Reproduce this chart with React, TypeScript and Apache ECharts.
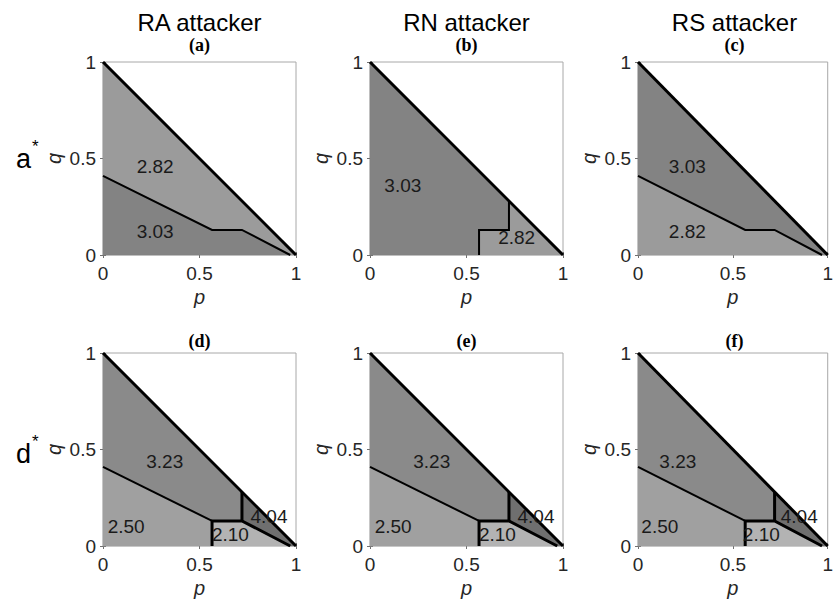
import React, { useEffect, useRef } from "react";
import * as echarts from "echarts";

// ---- data ----
const columnTitles = ["RA attacker", "RN attacker", "RS attacker"];
const panelLetters = ["(a)", "(b)", "(c)", "(d)", "(e)", "(f)"];
const rowLetters = ["a", "d"];
const tickValues = [0, 0.5, 1];

// boundaries in (p, q)
const diagonal = [[0, 1], [1, 0]];
const lowerBoundary = [[0, 0.41], [0.565, 0.13], [0.72, 0.13], [0.97, 0]];
const lowerLeftPart = [[0, 0.41], [0.565, 0.13]];
const stepBoundary = [[0.565, 0], [0.565, 0.13], [0.72, 0.13], [0.72, 0.28]];
const stepTail = [[0.565, 0], [0.565, 0.13], [0.72, 0.13], [0.97, 0]];
const stepUp = [[0.72, 0.13], [0.72, 0.28]];

// region polygons
const aboveLower = [[0, 1], [1, 0], [0.97, 0], [0.72, 0.13], [0.565, 0.13], [0, 0.41]];
const belowLower = [[0, 0], [0.97, 0], [0.72, 0.13], [0.565, 0.13], [0, 0.41]];
const leftOfStep = [[0, 0], [0.565, 0], [0.565, 0.13], [0.72, 0.13], [0.72, 0.28], [0, 1]];
const rightOfStep = [[0.565, 0], [1, 0], [0.72, 0.28], [0.72, 0.13], [0.565, 0.13]];
const region323 = [[0, 1], [0.72, 0.28], [0.72, 0.13], [0.565, 0.13], [0, 0.41]];
const region250 = [[0, 0], [0.565, 0], [0.565, 0.13], [0, 0.41]];
const region210 = [[0.565, 0], [0.97, 0], [0.72, 0.13], [0.565, 0.13]];
const region404 = [[0.72, 0.28], [1, 0], [0.97, 0], [0.72, 0.13]];

// region values and label anchors
const valuesA = ["2.82", "3.03"];
const anchorsA = [[0.27, 0.46], [0.27, 0.12]];
const valuesB = ["3.03", "2.82"];
const anchorsB = [[0.17, 0.36], [0.76, 0.09]];
const valuesC = ["3.03", "2.82"];
const anchorsC = [[0.26, 0.46], [0.26, 0.12]];
const valuesD = ["3.23", "2.50", "2.10", "4.04"];
const anchorsD = [[0.32, 0.44], [0.12, 0.1], [0.66, 0.06], [0.86, 0.155]];
const anchorsF = [[0.21, 0.44], [0.115, 0.1], [0.65, 0.06], [0.85, 0.155]];

const LIGHT = "#9b9b9b";
const DARK = "#838383";
const G323 = "#8a8a8a";
const G250 = "#a0a0a0";
const G210 = "#b3b3b3";
const G404 = "#6f6f6f";

type Region = { pts: number[][]; color: string; text: string; at: number[] };
type Ln = { pts: number[][]; width: number };

const topLines: Ln[] = [
  { pts: lowerBoundary, width: 2 },
  { pts: diagonal, width: 3 },
];
const bottomLines: Ln[] = [
  { pts: lowerLeftPart, width: 2 },
  { pts: stepTail, width: 3 },
  { pts: stepUp, width: 3 },
  { pts: diagonal, width: 3 },
];
const bottomRegions = (anchors: number[][]): Region[] => [
  { pts: region323, color: G323, text: valuesD[0], at: anchors[0] },
  { pts: region250, color: G250, text: valuesD[1], at: anchors[1] },
  { pts: region210, color: G210, text: valuesD[2], at: anchors[2] },
  { pts: region404, color: G404, text: valuesD[3], at: anchors[3] },
];

const panels: { regions: Region[]; lines: Ln[] }[] = [
  {
    regions: [
      { pts: aboveLower, color: LIGHT, text: valuesA[0], at: anchorsA[0] },
      { pts: belowLower, color: DARK, text: valuesA[1], at: anchorsA[1] },
    ],
    lines: topLines,
  },
  {
    regions: [
      { pts: leftOfStep, color: DARK, text: valuesB[0], at: anchorsB[0] },
      { pts: rightOfStep, color: LIGHT, text: valuesB[1], at: anchorsB[1] },
    ],
    lines: [
      { pts: stepBoundary, width: 2 },
      { pts: diagonal, width: 3 },
    ],
  },
  {
    regions: [
      { pts: aboveLower, color: DARK, text: valuesC[0], at: anchorsC[0] },
      { pts: belowLower, color: LIGHT, text: valuesC[1], at: anchorsC[1] },
    ],
    lines: topLines,
  },
  { regions: bottomRegions(anchorsD), lines: bottomLines },
  { regions: bottomRegions(anchorsD), lines: bottomLines },
  { regions: bottomRegions(anchorsF), lines: bottomLines },
];

// ---- layout ----
const GRID_LEFT = [103, 370, 638];
const GRID_TOP = [62, 353];
const GRID_SIZE = 193;
const SANS = "'Liberation Sans', Arial, sans-serif";
const SERIF = "'Liberation Serif', 'Times New Roman', serif";
const TEXT = "#262626";

export default function App() {
  const ref = useRef<HTMLDivElement>(null);
  useEffect(() => {
    if (!ref.current) return;
    const chart = echarts.init(ref.current, undefined, { renderer: "svg" });

    const grid: any[] = [];
    const xAxis: any[] = [];
    const yAxis: any[] = [];
    const series: any[] = [];
    const graphic: any[] = [];

    panels.forEach((panel, i) => {
      const col = i % 3;
      const row = Math.floor(i / 3);
      grid.push({
        left: GRID_LEFT[col],
        top: GRID_TOP[row],
        width: GRID_SIZE,
        height: GRID_SIZE,
        show: true,
        borderColor: "#a8a8a8",
        borderWidth: 1,
        backgroundColor: "#ffffff",
      });
      const base = {
        type: "value",
        min: 0,
        max: 1,
        interval: 0.5,
        gridIndex: i,
        splitLine: { show: false },
        axisLine: { show: false },
        axisTick: { show: true, inside: true, length: 3, lineStyle: { color: "#707070" } },
      };
      xAxis.push({
        ...base,
        position: "bottom",
        name: "p",
        nameLocation: "middle",
        nameGap: 32,
        nameTextStyle: { fontFamily: SANS, fontStyle: "italic", fontSize: 20, color: TEXT },
        axisLabel: {
          fontFamily: SANS,
          fontSize: 19,
          color: TEXT,
          margin: 9,
          formatter: (v: number) => (tickValues.includes(v) ? String(v) : ""),
        },
      });
      xAxis.push({ ...base, position: "top", axisLabel: { show: false } });
      yAxis.push({
        ...base,
        position: "left",
        name: "q",
        nameLocation: "middle",
        nameGap: 39,
        nameTextStyle: { fontFamily: SANS, fontStyle: "italic", fontSize: 20, color: TEXT },
        axisLabel: {
          fontFamily: SANS,
          fontSize: 19,
          color: TEXT,
          margin: 7,
          formatter: (v: number) => (tickValues.includes(v) ? String(v) : ""),
        },
      });
      yAxis.push({ ...base, position: "right", axisLabel: { show: false } });

      const xi = 2 * i;
      const yi = 2 * i;
      series.push({
        type: "custom",
        xAxisIndex: xi,
        yAxisIndex: yi,
        z: 1,
        silent: true,
        data: panel.regions.map((_, k) => [k]),
        renderItem: (_params: any, api: any) => {
          const reg = panel.regions[api.value(0)];
          return {
            type: "polygon",
            shape: { points: reg.pts.map((pt) => api.coord(pt)) },
            style: { fill: reg.color, stroke: reg.color, lineWidth: 0.5 },
          };
        },
      });
      panel.lines.forEach((ln) => {
        series.push({
          type: "line",
          xAxisIndex: xi,
          yAxisIndex: yi,
          z: 3,
          silent: true,
          showSymbol: false,
          symbol: "none",
          data: ln.pts,
          lineStyle: { color: "#000000", width: ln.width, join: "miter" },
        });
      });
      series.push({
        type: "custom",
        xAxisIndex: xi,
        yAxisIndex: yi,
        z: 5,
        silent: true,
        data: panel.regions.map((r) => [r.at[0], r.at[1]]),
        renderItem: (params: any, api: any) => {
          const reg = panel.regions[params.dataIndex];
          const pt = api.coord([api.value(0), api.value(1)]);
          return {
            type: "text",
            x: pt[0],
            y: pt[1],
            style: {
              text: reg.text,
              fontFamily: SANS,
              fontSize: 19,
              fill: "#1a1a1a",
              align: "center",
              verticalAlign: "middle",
            },
          };
        },
      });

      // panel letter
      graphic.push({
        type: "text",
        x: GRID_LEFT[col] + GRID_SIZE / 2,
        y: row === 0 ? 45 : 341,
        style: {
          text: panelLetters[i],
          fontFamily: SERIF,
          fontWeight: "bold",
          fontSize: 18,
          fill: "#000",
          align: "center",
          verticalAlign: "middle",
        },
      });
    });

    columnTitles.forEach((t, c) => {
      graphic.push({
        type: "text",
        x: GRID_LEFT[c] + GRID_SIZE / 2,
        y: 22,
        style: {
          text: t,
          fontFamily: SANS,
          fontSize: 24,
          fill: "#000",
          align: "center",
          verticalAlign: "middle",
        },
      });
    });

    const rowY = [155, 450];
    rowLetters.forEach((t, r) => {
      graphic.push({
        type: "text",
        x: 16,
        y: rowY[r],
        style: {
          text: `{m|${t}}{s|*}`,
          align: "left",
          verticalAlign: "middle",
          rich: {
            m: { fontFamily: SANS, fontSize: 27, lineHeight: 34, fill: "#000", verticalAlign: "bottom" },
            s: { fontFamily: SANS, fontSize: 17, lineHeight: 17, fill: "#000", verticalAlign: "top", padding: [0, 0, 0, 1] },
          },
        },
      });
    });

    chart.setOption({
      animation: false,
      backgroundColor: "#ffffff",
      grid,
      xAxis,
      yAxis,
      series,
      graphic,
    });
    return () => chart.dispose();
  }, []);
  return (
    <div
      ref={ref}
      style={{ position: "fixed", left: 0, top: 0, width: 836, height: 603 }}
    />
  );
}
